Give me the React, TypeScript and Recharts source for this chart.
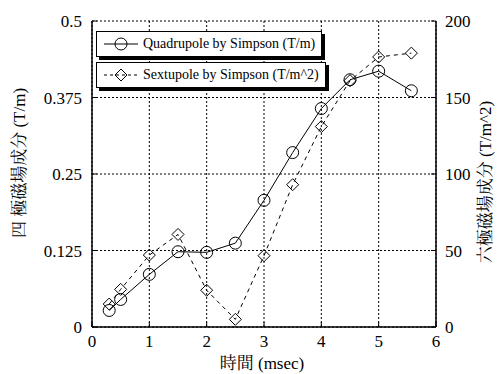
import { ComposedChart, Line, XAxis, YAxis, CartesianGrid, Legend } from "recharts";

// sampling times (msec)
const times = [0.3, 0.5, 1, 1.5, 2, 2.5, 3, 3.5, 4, 4.5, 5, 5.57];
// quadrupole component (T/m), left axis
const quadrupole = [0.027, 0.045, 0.086, 0.123, 0.122, 0.137, 0.207, 0.285, 0.357, 0.404, 0.418, 0.386];
// sextupole component (T/m^2), right axis
const sextupole = [15, 24.6, 47, 60.5, 24, 5, 46.6, 93, 131, 161, 176.5, 179];

const xTicks = [0, 1, 2, 3, 4, 5, 6];
const leftTicks = [0, 0.125, 0.25, 0.375, 0.5];
const rightTicks = [0, 50, 100, 150, 200];

const rows = times.map((t, i) => ({ t, q: quadrupole[i], s: sextupole[i] }));

const SVG_SERIF = "Liberation Serif";
const HTML_SERIF = "Times";
const CJK = "Times, 'Noto Serif CJK JP', serif";

function TickText({ x, y, payload, textAnchor, verticalAnchor }: any) {
  const dy = verticalAnchor === "start" ? "0.71em" : "0.355em";
  return (
    <text x={x} y={y} dy={dy} textAnchor={textAnchor} fontSize={17} fontFamily={SVG_SERIF} fill="#000">
      {payload.value}
    </text>
  );
}

function CircleDot({ cx, cy }: any) {
  if (cx == null || cy == null) return null;
  return <circle cx={cx} cy={cy} r={6} fill="none" stroke="#000" strokeWidth={1} />;
}

function DiamondDot({ cx, cy }: any) {
  if (cx == null || cy == null) return null;
  const d = 6;
  return (
    <path d={`M${cx},${cy - d}L${cx + d},${cy}L${cx},${cy + d}L${cx - d},${cy}Z`}
      fill="none" stroke="#000" strokeWidth={1} />
  );
}

function LegendBoxes({ payload }: any) {
  if (!payload?.length) return null;
  return (
    <div style={{ display: "flex", flexDirection: "column", gap: 5 }}>
      {payload.map((p: any) => {
        const dashed = p.dataKey === "s";
        return (
          <div key={p.value} style={{
            display: "flex", alignItems: "center", height: 24, background: "#fff",
            border: "1px solid #000", boxShadow: "3px 3px 0 #000", paddingRight: 6,
            width: "fit-content",
          }}>
            <svg width={46} height={24} style={{ display: "block" }}>
              <line x1={7} x2={41} y1={12} y2={12} stroke="#000" strokeWidth={1}
                strokeDasharray={dashed ? "3 3" : undefined} />
              {dashed
                ? <DiamondDot cx={24} cy={12} />
                : <CircleDot cx={24} cy={12} />}
            </svg>
            <span style={{ fontFamily: HTML_SERIF, fontSize: 14, whiteSpace: "nowrap" }}>{p.value}</span>
          </div>
        );
      })}
    </div>
  );
}

function LeftTitle({ viewBox }: any) {
  const x = viewBox.x - 13;
  const y = viewBox.y + viewBox.height / 2 - 11;
  return (
    <text x={x} y={y} transform={`rotate(-90 ${x} ${y})`} textAnchor="middle"
      dominantBaseline="central" fontSize={17} fontFamily={CJK} fill="#000">
      四 極磁場成分 (T/m)
    </text>
  );
}

function RightTitle({ viewBox }: any) {
  const x = viewBox.x + viewBox.width + 9;
  const y = viewBox.y + viewBox.height / 2 + 8;
  return (
    <text x={x} y={y} transform={`rotate(-90 ${x} ${y})`} textAnchor="middle"
      dominantBaseline="central" fontSize={17} fontFamily={CJK} fill="#000">
      六極磁場成分 (T/m^2)
    </text>
  );
}

function BottomTitle({ viewBox }: any) {
  const x = viewBox.x + viewBox.width / 2 - 2;
  const y = viewBox.y + viewBox.height + 6;
  return (
    <text x={x} y={y} textAnchor="middle" dominantBaseline="central"
      fontSize={17} fontFamily={CJK} fill="#000">
      時間 (msec)
    </text>
  );
}

export default function App() {
  return (
    <div style={{ position: "absolute", left: 0, top: 0, background: "#fff" }}>
      <ComposedChart width={501} height={374} data={rows}
        margin={{ top: 21, right: 25, bottom: 17, left: 32 }}>
        <CartesianGrid yAxisId="left" stroke="#000" strokeDasharray="2 2" strokeWidth={1} />
        <XAxis dataKey="t" type="number" domain={[0, 6]} ticks={xTicks} allowDataOverflow
          height={30} tickSize={-5} tickMargin={13} tick={<TickText />}
          axisLine={{ stroke: "#000", strokeWidth: 1.5 }} tickLine={{ stroke: "#000" }}
          label={{ content: BottomTitle }} />
        <XAxis xAxisId="top" dataKey="t" type="number" orientation="top" domain={[0, 6]}
          ticks={xTicks} height={0} tickSize={-5} tickFormatter={() => ""}
          axisLine={{ stroke: "#000", strokeWidth: 1.5 }} tickLine={{ stroke: "#000" }} />
        <YAxis yAxisId="left" type="number" domain={[0, 0.5]} ticks={leftTicks} width={60}
          tickSize={-5} tickMargin={15} tick={<TickText />}
          axisLine={{ stroke: "#000", strokeWidth: 1.5 }} tickLine={{ stroke: "#000" }}
          label={{ content: LeftTitle }} />
        <YAxis yAxisId="right" orientation="right" type="number" domain={[0, 200]}
          ticks={rightTicks} width={40} tickSize={-5} tickMargin={14} tick={<TickText />}
          axisLine={{ stroke: "#000", strokeWidth: 1.5 }} tickLine={{ stroke: "#000" }}
          label={{ content: RightTitle }} />
        <Legend layout="horizontal" verticalAlign="middle" align="center"
          wrapperStyle={{ left: 96, top: 31, width: "auto" }} content={LegendBoxes} />
        <Line yAxisId="left" dataKey="q" name="Quadrupole by Simpson (T/m)" type="linear"
          stroke="#000" strokeWidth={1} dot={<CircleDot />} activeDot={false}
          isAnimationActive={false} />
        <Line yAxisId="right" dataKey="s" name="Sextupole by Simpson (T/m^2)" type="linear"
          stroke="#000" strokeWidth={1} strokeDasharray="4 4" dot={<DiamondDot />}
          activeDot={false} isAnimationActive={false} />
      </ComposedChart>
    </div>
  );
}
